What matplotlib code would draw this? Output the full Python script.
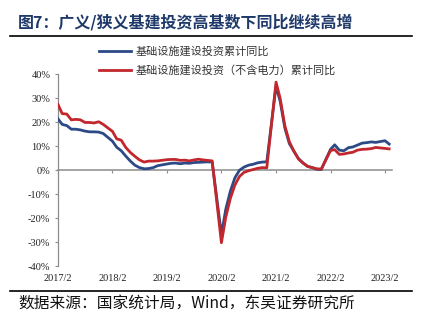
import matplotlib
matplotlib.use("Agg")
import matplotlib.pyplot as plt
from matplotlib.lines import Line2D
import pandas as pd

plt.rcParams['font.family'] = ['Noto Sans CJK SC', 'DejaVu Sans']

# Monthly cumulative YoY (%), Jan-Feb reported together, Feb 2017 - Mar 2023
months = (
    [f"{y}-{m:02d}-01" for y in range(2017, 2023) for m in range(2, 13)]
    + ["2023-02-01", "2023-03-01"]
)

broad = [
    21.3, 19.0, 18.5, 17.0, 17.0, 16.7, 16.2, 15.9, 15.9, 15.8, 15.2,   # 2017
    12.0, 9.5, 8.0, 5.8, 3.7, 2.0, 1.0, 0.5, 0.6, 1.0, 1.8,             # 2018
    2.5, 2.8, 2.9, 2.6, 2.9, 2.8, 3.1, 3.2, 3.3, 3.4, 3.3,              # 2019
    -26.9, -16.4, -8.8, -3.3, -0.1, 1.2, 2.0, 2.4, 3.0, 3.3, 3.4,       # 2020
    35.0, 28.5, 17.5, 11.0, 7.8, 4.8, 2.9, 1.5, 1.0, 0.3, 0.2,          # 2021
    8.6, 10.5, 8.3, 8.0, 9.3, 9.6, 10.4, 11.2, 11.4, 11.7, 11.5,        # 2022
    12.2, 10.8,                                                          # 2023
]

narrow = [
    27.3, 23.5, 23.3, 20.9, 21.1, 20.9, 19.8, 19.8, 19.6, 20.1, 19.0,   # 2017
    16.1, 13.0, 12.4, 9.4, 7.3, 5.7, 4.2, 3.3, 3.7, 3.7, 3.8,           # 2018
    4.3, 4.4, 4.4, 4.0, 4.1, 3.8, 4.2, 4.5, 4.2, 4.0, 3.8,              # 2019
    -30.3, -19.7, -11.8, -6.3, -2.7, -1.0, -0.3, 0.2, 0.7, 1.0, 0.9,    # 2020
    36.6, 29.7, 18.4, 11.8, 7.8, 4.6, 2.9, 1.5, 1.0, 0.5, 0.4,          # 2021
    8.1, 8.5, 6.5, 6.7, 7.1, 7.4, 8.3, 8.6, 8.7, 8.9, 9.4,              # 2022
    9.0, 8.8,                                                            # 2023
]

series_labels = ["基础设施建设投资累计同比", "基础设施建设投资（不含电力）累计同比"]
tick_years = list(range(2017, 2024))
tick_labels = [f"{y}/2" for y in tick_years]
y_ticks = [-40, -30, -20, -10, 0, 10, 20, 30, 40]

title = "图7：广义/狭义基建投资高基数下同比继续高增"
source = "数据来源：国家统计局，Wind，东吴证券研究所"

dates = pd.to_datetime(months)

W, H = 424, 322
fig = plt.figure(figsize=(W / 100, H / 100), dpi=100)
ax = fig.add_axes([58 / W, 1 - 266 / H, (392 - 58) / W, (266 - 74) / H])

blue = "#2b4a86"
red = "#c1272d"
ax.plot(dates, broad, color=blue, lw=2.0, solid_joinstyle="round", zorder=3)
ax.plot(dates, narrow, color=red, lw=2.0, solid_joinstyle="round", zorder=4)

ax.set_ylim(-40, 40)
ax.set_xlim(pd.Timestamp("2017-02-01"), pd.Timestamp("2023-03-20"))

serif = ["Liberation Serif", "DejaVu Serif"]
axis_gray = "#8c8c8c"

# y axis
ax.set_yticks(y_ticks)
ax.set_yticklabels([f"{v}%" for v in y_ticks], fontsize=7.5, family=serif, color="#222222")
ax.tick_params(axis="y", direction="out", length=2.5, width=0.8, color=axis_gray, pad=3)
ax.spines["left"].set_color(axis_gray)
ax.spines["left"].set_linewidth(0.9)
ax.spines["top"].set_visible(False)
ax.spines["right"].set_visible(False)

# zero line carries the tick marks; labels sit below the plot
tick_dates = pd.to_datetime([f"{y}-02-01" for y in tick_years])
ax.spines["bottom"].set_position(("data", 0))
ax.spines["bottom"].set_color(axis_gray)
ax.spines["bottom"].set_linewidth(1.1)
ax.set_xticks(tick_dates)
ax.tick_params(axis="x", direction="out", length=2.5, width=0.8, color=axis_gray, labelbottom=False)

sec = ax.secondary_xaxis("bottom")
sec.set_xticks(tick_dates)
sec.set_xticklabels(tick_labels, fontsize=7.5, family=serif, color="#222222")
sec.tick_params(length=0, pad=6)
sec.spines["bottom"].set_visible(False)

# legend
handles = [Line2D([], [], color=blue, lw=2.0), Line2D([], [], color=red, lw=2.0)]
fig.legend(handles, series_labels, loc="upper left",
           bbox_to_anchor=(93 / W, 1 - 41 / H), frameon=False,
           fontsize=8, handlelength=2.9, handletextpad=0.45,
           labelspacing=0.7, borderpad=0, labelcolor="#333333")

# title, rules and source
fig.text(18 / W, 1 - 22.5 / H, title, fontsize=11.5, fontweight="bold",
         color="#1f3a6a", va="center", ha="left")
fig.add_artist(Line2D([10 / W, 412 / W], [1 - 36 / H, 1 - 36 / H], color="black", lw=1.2))
fig.add_artist(Line2D([10 / W, 412 / W], [1 - 291 / H, 1 - 291 / H], color="black", lw=1.2))
fig.text(18 / W, 1 - 303.5 / H, source, fontsize=11.3, color="#111111", va="center", ha="left")

fig.savefig("out.png", dpi=100)
